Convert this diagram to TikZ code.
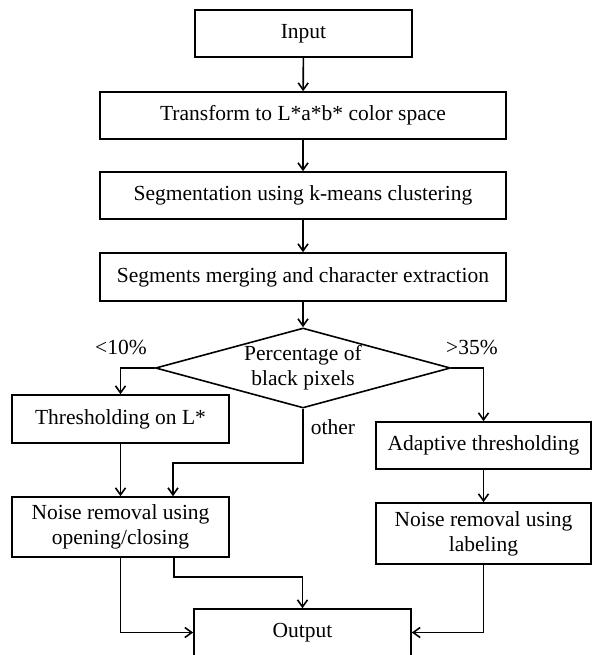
\documentclass[tikz,border=0pt]{standalone}
\usepackage{fontspec}
\setmainfont{Liberation Serif}
\usetikzlibrary{arrows.meta,shapes.geometric}
\begin{document}
\begin{tikzpicture}[x=1pt,y=-1pt,
  every node/.style={font=\fontsize{21.5}{25}\selectfont},
  box/.style={draw,line width=1.6pt,inner sep=0pt,align=center},
  conn/.style={line width=1.6pt,-{Straight Barb[length=7pt,width=10pt,line width=1.6pt]}},
  lbl/.style={inner sep=0pt}]
\useasboundingbox (0,0) rectangle (592,655);
\node[box,minimum width=217pt,minimum height=47pt] (in) at (303.5,33.5) {Input};
\node[box,minimum width=406pt,minimum height=47pt] (tr) at (303,115.5) {Transform to L*a*b* color space};
\node[box,minimum width=406pt,minimum height=47pt] (seg) at (303,195.5) {Segmentation using k-means clustering};
\node[box,minimum width=406pt,minimum height=48pt] (mer) at (303,277) {Segments merging and character extraction};
\node[diamond,draw,line width=1.6pt,minimum width=295pt,minimum height=80pt,inner sep=0pt] (dia) at (303,368) {};
\node[align=center,inner sep=0pt] (diat) at (303,368) {Percentage of\\black pixels};
\node[box,minimum width=217pt,minimum height=48pt] (thr) at (120.5,419) {Thresholding on L*};
\node[box,minimum width=215pt,minimum height=47pt] (ada) at (483.5,445.5) {Adaptive thresholding};
\node[box,minimum width=217pt,minimum height=60pt] (n1) at (120.5,527) {Noise removal using\\opening/closing};
\node[box,minimum width=215pt,minimum height=61pt] (n2) at (483.5,533.5) {Noise removal using\\labeling};
\node[box,minimum width=217pt,minimum height=47pt] (out) at (302.5,632.5) {Output};
\node[lbl] (l10) at (121,347) {<10\%};
\node[lbl] (l35) at (472,347) {>35\%};
\node[lbl] (lot) at (333,427) {other};
\coordinate (o1) at (173,463);
\coordinate (o2) at (174,577);
\draw[conn] (in) -- (tr);
\draw[conn] (tr) -- (seg);
\draw[conn] (seg) -- (mer);
\draw[conn] (mer) -- (dia.north);
\draw[conn] (dia.west) -| (thr.north);
\draw[conn] (dia.east) -| (ada.north);
\draw[conn] (dia.south) |- (o1) -- (o1 |- n1.north);
\draw[conn] (thr) -- (n1);
\draw[conn] (ada) -- (n2);
\draw[conn] (n1.south) |- (out.west);
\draw[conn] (n1.south -| o2) -- (o2) -| (out.north);
\draw[conn] (n2.south) |- (out.east);
\end{tikzpicture}
\end{document}
